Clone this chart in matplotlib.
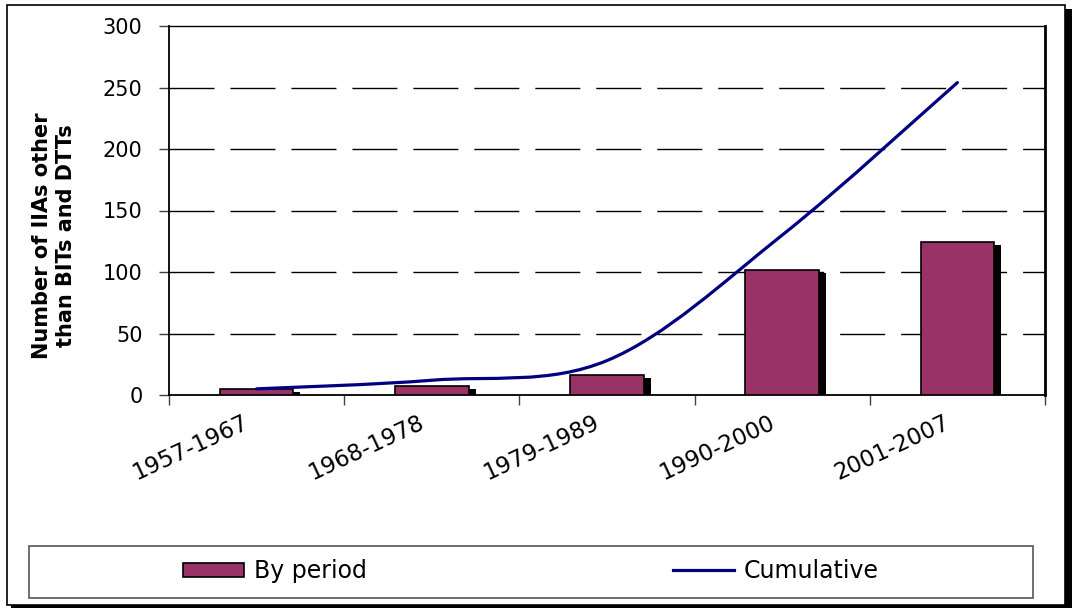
import matplotlib
matplotlib.use("Agg")
import matplotlib.pyplot as plt
from matplotlib.patches import Rectangle, PathPatch
from matplotlib.lines import Line2D
from matplotlib.path import Path
import matplotlib.transforms as mtransforms
import numpy as np

periods = ["1957-1967", "1968-1978", "1979-1989", "1990-2000", "2001-2007"]
by_period = [5, 7, 16, 102, 124]
cumulative = [5, 12, 28, 130, 254]
y_ticks = [0, 50, 100, 150, 200, 250, 300]

plt.rcParams['font.family'] = ['DejaVu Sans']

fig = plt.figure(figsize=(10.72, 6.08), dpi=100)
W, H = 1072, 608
ax = fig.add_axes([169 / W, 1 - 395 / H, (1045 - 169) / W, (395 - 26) / H])

x = np.arange(len(periods))
bar_w = 0.42

# shadow bars
shadow = mtransforms.offset_copy(ax.transData, fig=fig, x=7, y=-3, units='dots')
ax.bar(x, by_period, width=bar_w, color='black', transform=shadow, zorder=2)
ax.bar(x, by_period, width=bar_w, color='#993366', edgecolor='black', linewidth=1.2, zorder=3)

# smooth cumulative line (cubic bezier through points)
pts = np.column_stack([x, cumulative]).astype(float)
verts = [tuple(pts[0])]
codes = [Path.MOVETO]
n = len(pts)
for i in range(n - 1):
    p0 = pts[i - 1] if i > 0 else pts[i]
    p1 = pts[i]
    p2 = pts[i + 1]
    p3 = pts[i + 2] if i + 2 < n else pts[i + 1]
    c1 = p1 + (p2 - p0) / 6.0
    c2 = p2 - (p3 - p1) / 6.0
    verts += [tuple(c1), tuple(c2), tuple(p2)]
    codes += [Path.CURVE4] * 3
patch = PathPatch(Path(verts, codes), facecolor='none', edgecolor='#000080',
                  linewidth=2.3, capstyle='round', joinstyle='round', zorder=4)
ax.add_patch(patch)

ax.set_xlim(-0.5, len(periods) - 0.5)
ax.set_ylim(0, 300)
ax.set_yticks(y_ticks)
ax.set_yticklabels([str(v) for v in y_ticks], fontsize=15)
for v in y_ticks[1:-1]:
    ax.axhline(v, color='black', linewidth=1.0, dashes=(32.4, 11.5), zorder=1)

ax.set_xticks(np.arange(len(periods) + 1) - 0.5)
ax.set_xticklabels([])
ax.set_xticks(x, minor=True)
ax.set_xticklabels(periods, minor=True, rotation=25, ha='right', va='center',
                   rotation_mode='anchor', fontsize=16.5)
ax.tick_params(axis='x', which='minor', length=0, pad=19)
shift = mtransforms.ScaledTranslation(-9 / 100, 0, fig.dpi_scale_trans)
for lab in ax.xaxis.get_minorticklabels():
    lab.set_transform(lab.get_transform() + shift)
ax.tick_params(axis='x', which='major', length=7, width=1, direction='out', color='#404040')
ax.tick_params(axis='y', length=7, width=1, direction='out', pad=12, color='#404040')

for s in ['left', 'bottom']:
    ax.spines[s].set_linewidth(1.3)
ax.spines['top'].set_linewidth(1.0)
ax.spines['right'].set_linewidth(2.0)

ax.set_ylabel("Number of IIAs other\nthan BITs and DTTs", fontsize=15,
              fontweight='bold', linespacing=1.3, va='center', ha='center')
ax.yaxis.set_label_coords((54 - 169) / (1045 - 169), (395 - 236) / (395 - 26))

# legend box
fig.patches.append(Rectangle((29 / W, 1 - 598 / H), (1033 - 29) / W, (598 - 546) / H,
                             transform=fig.transFigure, facecolor='none',
                             edgecolor='#555555', linewidth=1.2))
handles = [Rectangle((0, 0), 1, 1, facecolor='#993366', edgecolor='black', linewidth=1.2),
           Line2D([0], [0], color='#000080', linewidth=2.3)]
fig.legend(handles, ["By period", "Cumulative"], loc='center',
           bbox_to_anchor=(531 / W, 1 - 571 / H), ncol=2, frameon=False,
           fontsize=17, handlelength=2.55, handleheight=0.55, handletextpad=0.42,
           columnspacing=13.0)

# outer border with shadow
fig.patches.append(Rectangle((11 / W, 1 - 608 / H), (1072 - 11) / W, (608 - 9) / H,
                             transform=fig.transFigure, facecolor='black',
                             edgecolor='none', zorder=-3))
fig.patches.append(Rectangle((7 / W, 1 - 605 / H), (1065 - 7) / W, (605 - 5) / H,
                             transform=fig.transFigure, facecolor='white',
                             edgecolor='black', linewidth=1.2, zorder=-2))

fig.savefig("out.png", dpi=100)
